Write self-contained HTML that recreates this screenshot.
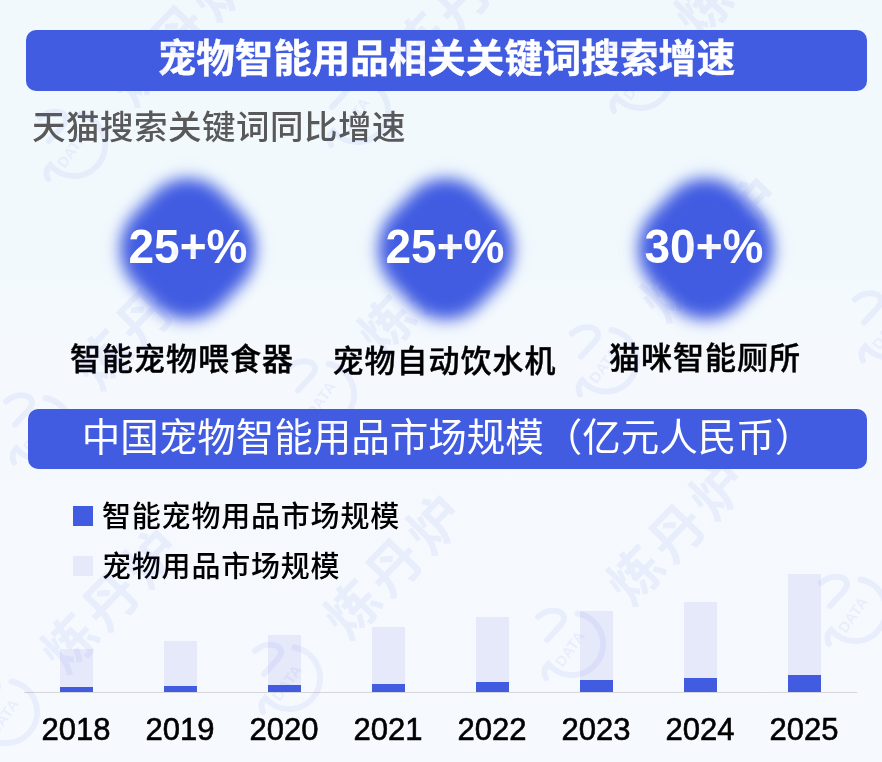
<!DOCTYPE html>
<html lang="zh-CN">
<head>
<meta charset="utf-8">
<style>
html,body{margin:0;padding:0;}
body{width:882px;height:762px;overflow:hidden;position:relative;background:linear-gradient(180deg,#f1f9fd 0%,#f2f9fd 35%,#f5f9fe 45%,#f6faff 100%);
  font-family:"Liberation Sans","Noto Sans CJK SC",sans-serif;}
.abs{position:absolute;}
.bar{position:absolute;background:#415ce1;border-radius:10px;color:#fff;text-align:center;white-space:nowrap;}
#bar1{left:26px;top:30px;width:841px;height:61px;font-weight:700;font-size:38.5px;line-height:58px;-webkit-text-stroke:0.4px #fff;}
#bar2{left:28px;top:409px;width:839px;height:60px;font-weight:400;font-size:38.5px;line-height:58px;}
#sub{left:32px;top:103.5px;font-size:33.5px;letter-spacing:0.5px;font-weight:500;line-height:48px;color:#595959;white-space:nowrap;}
.blob{position:absolute;width:124px;height:124px;border-radius:48px;background:#415ce1;transform:scaleY(1.04) rotate(45deg);filter:blur(8px);}
.pct{position:absolute;width:200px;text-align:center;color:#fff;font-weight:700;font-size:46px;line-height:50px;white-space:nowrap;transform:scaleY(1.04);}
.lab{position:absolute;width:260px;text-align:center;color:#000;font-weight:500;font-size:31px;letter-spacing:1px;-webkit-text-stroke:0.4px #000;line-height:40px;white-space:nowrap;}
.sq{position:absolute;width:20px;height:20px;}
.leg{position:absolute;left:102px;font-size:29px;letter-spacing:0.8px;font-weight:500;color:#000;line-height:40px;white-space:nowrap;}
.lb{position:absolute;width:33px;background:#e6e9fa;}
.db{position:absolute;width:33px;background:#415ce1;}
.yr{position:absolute;width:100px;text-align:center;font-size:31px;color:#000;-webkit-text-stroke:0.6px #000;line-height:36px;}
#wm{position:absolute;left:0;top:0;pointer-events:none;}
.wr{fill:none;stroke:rgba(65,92,225,0.07);stroke-width:6;stroke-linecap:round;}
.wd{font-family:"Liberation Sans",sans-serif;font-weight:700;font-size:15px;fill:rgba(65,92,225,0.07);text-anchor:middle;}
.wt{font-family:"Liberation Sans","Noto Sans CJK SC",sans-serif;font-weight:700;font-size:54px;letter-spacing:5px;fill:rgba(65,92,225,0.07);text-anchor:middle;}
</style>
</head>
<body>
<div class="bar" id="bar1">宠物智能用品相关关键词搜索增速</div>
<div class="abs" id="sub">天猫搜索关键词同比增速</div>

<div class="blob" style="left:126px;top:186.75px;"></div>
<div class="blob" style="left:384.3px;top:186.75px;"></div>
<div class="blob" style="left:643.5px;top:186.75px;"></div>
<div class="pct" style="left:88px;top:221px;">25+%</div>
<div class="pct" style="left:345px;top:221px;">25+%</div>
<div class="pct" style="left:604px;top:221px;">30+%</div>
<div class="lab" style="left:52px;top:340px;">智能宠物喂食器</div>
<div class="lab" style="left:314.5px;top:342px;">宠物自动饮水机</div>
<div class="lab" style="left:575px;top:338.5px;">猫咪智能厕所</div>

<div class="bar" id="bar2">中国宠物智能用品市场规模（亿元人民币）</div>

<div class="sq" style="left:73px;top:506px;background:#415ce1;"></div>
<div class="leg" style="top:497px;">智能宠物用品市场规模</div>
<div class="sq" style="left:73px;top:556px;background:#e6e9fa;"></div>
<div class="leg" style="top:547px;">宠物用品市场规模</div>

<div class="lb" style="left:60px;top:649px;height:38px;"></div><div class="db" style="left:60px;top:687px;height:5px;"></div>
<div class="lb" style="left:164px;top:641px;height:45px;"></div><div class="db" style="left:164px;top:686px;height:6px;"></div>
<div class="lb" style="left:268px;top:635px;height:50px;"></div><div class="db" style="left:268px;top:685px;height:7px;"></div>
<div class="lb" style="left:372px;top:627px;height:57px;"></div><div class="db" style="left:372px;top:684px;height:8px;"></div>
<div class="lb" style="left:476px;top:617px;height:65px;"></div><div class="db" style="left:476px;top:682px;height:10px;"></div>
<div class="lb" style="left:580px;top:611px;height:69px;"></div><div class="db" style="left:580px;top:680px;height:12px;"></div>
<div class="lb" style="left:684px;top:602px;height:76px;"></div><div class="db" style="left:684px;top:678px;height:14px;"></div>
<div class="lb" style="left:788px;top:574px;height:101px;"></div><div class="db" style="left:788px;top:675px;height:17px;"></div>
<div class="abs" style="left:24px;top:692px;width:833px;height:1px;background:#d6d6d6;"></div>

<div class="yr" style="left:26px;top:712px;">2018</div>
<div class="yr" style="left:130px;top:712px;">2019</div>
<div class="yr" style="left:234px;top:712px;">2020</div>
<div class="yr" style="left:338px;top:712px;">2021</div>
<div class="yr" style="left:442px;top:712px;">2022</div>
<div class="yr" style="left:546px;top:712px;">2023</div>
<div class="yr" style="left:650px;top:712px;">2024</div>
<div class="yr" style="left:754px;top:712px;">2025</div>
<svg id="wm" width="882" height="762" viewBox="0 0 882 762"><g transform="translate(6 712.0)"><path d="M5.4 -30.5 A31 31 0 1 1 -23.7 19.9 Q-30 26 -26 34" class="wr"/><path d="M-34 -27 Q-24 -36 -12 -32 Q-4 -27 -12 -18 L-25 -4" class="wr"/><text x="0" y="5" transform="translate(-2 5) rotate(-55)" class="wd">DATA</text></g><text transform="translate(111 600.0) rotate(-46)" x="2" y="20" class="wt">炼丹炉</text><g transform="translate(289 678.0)"><path d="M5.4 -30.5 A31 31 0 1 1 -23.7 19.9 Q-30 26 -26 34" class="wr"/><path d="M-34 -27 Q-24 -36 -12 -32 Q-4 -27 -12 -18 L-25 -4" class="wr"/><text x="0" y="5" transform="translate(-2 5) rotate(-55)" class="wd">DATA</text></g><text transform="translate(394 566.0) rotate(-46)" x="2" y="20" class="wt">炼丹炉</text><g transform="translate(572 644.0)"><path d="M5.4 -30.5 A31 31 0 1 1 -23.7 19.9 Q-30 26 -26 34" class="wr"/><path d="M-34 -27 Q-24 -36 -12 -32 Q-4 -27 -12 -18 L-25 -4" class="wr"/><text x="0" y="5" transform="translate(-2 5) rotate(-55)" class="wd">DATA</text></g><text transform="translate(677 532.0) rotate(-46)" x="2" y="20" class="wt">炼丹炉</text><g transform="translate(855 610.0)"><path d="M5.4 -30.5 A31 31 0 1 1 -23.7 19.9 Q-30 26 -26 34" class="wr"/><path d="M-34 -27 Q-24 -36 -12 -32 Q-4 -27 -12 -18 L-25 -4" class="wr"/><text x="0" y="5" transform="translate(-2 5) rotate(-55)" class="wd">DATA</text></g><text transform="translate(960 498.0) rotate(-46)" x="2" y="20" class="wt">炼丹炉</text><g transform="translate(40 428.5)"><path d="M5.4 -30.5 A31 31 0 1 1 -23.7 19.9 Q-30 26 -26 34" class="wr"/><path d="M-34 -27 Q-24 -36 -12 -32 Q-4 -27 -12 -18 L-25 -4" class="wr"/><text x="0" y="5" transform="translate(-2 5) rotate(-55)" class="wd">DATA</text></g><text transform="translate(145 316.5) rotate(-46)" x="2" y="20" class="wt">炼丹炉</text><g transform="translate(323 394.5)"><path d="M5.4 -30.5 A31 31 0 1 1 -23.7 19.9 Q-30 26 -26 34" class="wr"/><path d="M-34 -27 Q-24 -36 -12 -32 Q-4 -27 -12 -18 L-25 -4" class="wr"/><text x="0" y="5" transform="translate(-2 5) rotate(-55)" class="wd">DATA</text></g><text transform="translate(428 282.5) rotate(-46)" x="2" y="20" class="wt">炼丹炉</text><g transform="translate(606 360.5)"><path d="M5.4 -30.5 A31 31 0 1 1 -23.7 19.9 Q-30 26 -26 34" class="wr"/><path d="M-34 -27 Q-24 -36 -12 -32 Q-4 -27 -12 -18 L-25 -4" class="wr"/><text x="0" y="5" transform="translate(-2 5) rotate(-55)" class="wd">DATA</text></g><text transform="translate(711 248.5) rotate(-46)" x="2" y="20" class="wt">炼丹炉</text><g transform="translate(889 326.5)"><path d="M5.4 -30.5 A31 31 0 1 1 -23.7 19.9 Q-30 26 -26 34" class="wr"/><path d="M-34 -27 Q-24 -36 -12 -32 Q-4 -27 -12 -18 L-25 -4" class="wr"/><text x="0" y="5" transform="translate(-2 5) rotate(-55)" class="wd">DATA</text></g><text transform="translate(994 214.5) rotate(-46)" x="2" y="20" class="wt">炼丹炉</text><g transform="translate(-209 179.0)"><path d="M5.4 -30.5 A31 31 0 1 1 -23.7 19.9 Q-30 26 -26 34" class="wr"/><path d="M-34 -27 Q-24 -36 -12 -32 Q-4 -27 -12 -18 L-25 -4" class="wr"/><text x="0" y="5" transform="translate(-2 5) rotate(-55)" class="wd">DATA</text></g><text transform="translate(-104 67.0) rotate(-46)" x="2" y="20" class="wt">炼丹炉</text><g transform="translate(74 145.0)"><path d="M5.4 -30.5 A31 31 0 1 1 -23.7 19.9 Q-30 26 -26 34" class="wr"/><path d="M-34 -27 Q-24 -36 -12 -32 Q-4 -27 -12 -18 L-25 -4" class="wr"/><text x="0" y="5" transform="translate(-2 5) rotate(-55)" class="wd">DATA</text></g><text transform="translate(179 33.0) rotate(-46)" x="2" y="20" class="wt">炼丹炉</text><g transform="translate(357 111.0)"><path d="M5.4 -30.5 A31 31 0 1 1 -23.7 19.9 Q-30 26 -26 34" class="wr"/><path d="M-34 -27 Q-24 -36 -12 -32 Q-4 -27 -12 -18 L-25 -4" class="wr"/><text x="0" y="5" transform="translate(-2 5) rotate(-55)" class="wd">DATA</text></g><text transform="translate(462 -1.0) rotate(-46)" x="2" y="20" class="wt">炼丹炉</text><g transform="translate(640 77.0)"><path d="M5.4 -30.5 A31 31 0 1 1 -23.7 19.9 Q-30 26 -26 34" class="wr"/><path d="M-34 -27 Q-24 -36 -12 -32 Q-4 -27 -12 -18 L-25 -4" class="wr"/><text x="0" y="5" transform="translate(-2 5) rotate(-55)" class="wd">DATA</text></g><text transform="translate(745 -35.0) rotate(-46)" x="2" y="20" class="wt">炼丹炉</text><g transform="translate(923 43.0)"><path d="M5.4 -30.5 A31 31 0 1 1 -23.7 19.9 Q-30 26 -26 34" class="wr"/><path d="M-34 -27 Q-24 -36 -12 -32 Q-4 -27 -12 -18 L-25 -4" class="wr"/><text x="0" y="5" transform="translate(-2 5) rotate(-55)" class="wd">DATA</text></g><text transform="translate(1028 -69.0) rotate(-46)" x="2" y="20" class="wt">炼丹炉</text></svg>
</body>
</html>
